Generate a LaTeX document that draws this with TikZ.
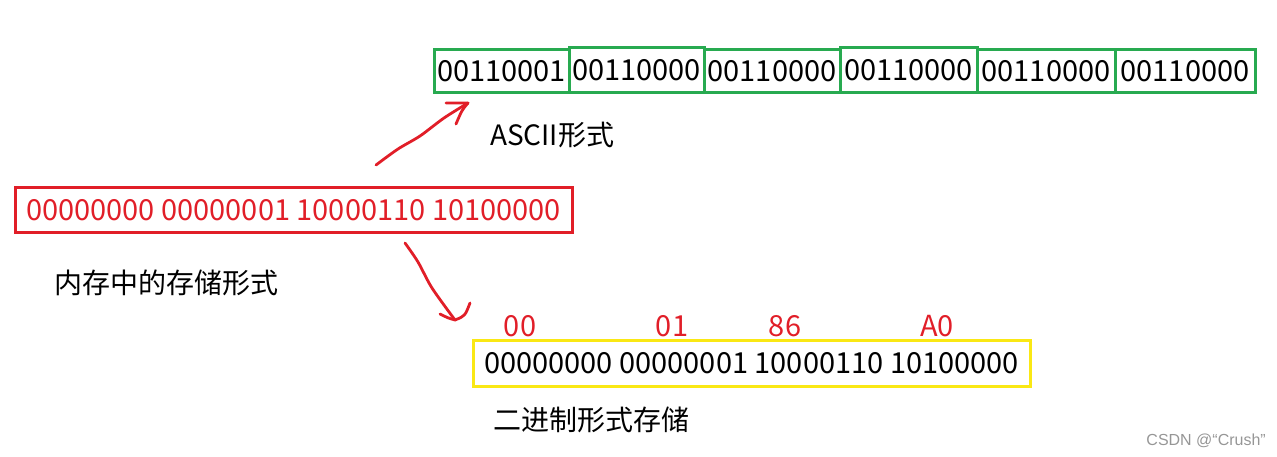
\documentclass[tikz,border=0pt]{standalone}
\usepackage{fontspec}
\setmainfont{Noto Sans CJK SC}
\newfontfamily\wmfont{Liberation Sans}
\definecolor{myred}{RGB}{225,30,40}
\definecolor{mygreen}{RGB}{40,170,80}
\definecolor{myyellow}{RGB}{250,232,20}
\definecolor{mygrey}{RGB}{150,150,150}
\begin{document}
\begin{tikzpicture}[x=1pt,y=-1pt,
  txt/.style={inner sep=0pt,font=\fontsize{28}{33}\selectfont},
  dig/.style={inner sep=0pt,font=\fontsize{29}{34}\selectfont},
  gbox/.style={draw=mygreen,line width=3pt,minimum height=43pt,minimum width=135pt,inner sep=0pt,font=\fontsize{29}{34}\selectfont},
  hand/.style={draw=myred,line width=2.8pt,line cap=round,line join=round}]
\path[use as bounding box] (0,0) rectangle (1277,457);
% green ASCII boxes
\node[gbox] (g1) at (501.5,71.5) {00110001};
\node[gbox,minimum width=135pt,minimum height=45pt] (g2) at (636.5,70.5) {00110000};
\node[gbox,minimum width=136pt] (g3) at (772,71.5) {00110000};
\node[gbox,minimum width=137pt,minimum height=45pt] (g4) at (908.5,70.5) {00110000};
\node[gbox,minimum width=138pt] (g5) at (1046,71.5) {00110000};
\node[gbox,minimum width=140pt] (g6) at (1185,71.5) {00110000};
\node[txt,anchor=west] (ascii) at (490,135) {ASCII形式};
% red memory box
\node[draw=myred,line width=3pt,minimum width=557pt,minimum height=45pt,inner sep=0pt,text=myred,font=\fontsize{29}{34}\selectfont] (mem) at (293.5,210.5) {00000000 00000001 10000110 10100000};
\node[txt,anchor=west] (memlab) at (54,283) {内存中的存储形式};
% yellow box
\node[draw=myyellow,line width=3pt,minimum width=557pt,minimum height=46pt,inner sep=0pt,font=\fontsize{29}{34}\selectfont] (bin) at (751.5,363) {00000000 00000001 10000110 10100000};
\node[dig,text=myred] (h1) at (520,326) {00};
\node[dig,text=myred] (h2) at (672,326) {01};
\node[dig,text=myred] (h3) at (785,326) {86};
\node[dig,text=myred] (h4) at (937,326) {A0};
\node[txt,anchor=west] (binlab) at (493,420) {二进制形式存储};
% watermark
\node[inner sep=0pt,anchor=east,text=mygrey,font=\wmfont\fontsize{16}{18}\selectfont] (wm) at (1266,441) {CSDN @“Crush”};
% hand-drawn arrow 1
\coordinate (a1s) at (376,165);
\coordinate (a1m1) at (398,149);
\coordinate (a1m2) at (420,136);
\coordinate (a1m3) at (444,118);
\coordinate (a1t) at (468,103);
\coordinate (a1w1) at (446,103);
\coordinate (a1w2) at (456,124);
\draw[hand] plot[smooth] coordinates {(a1s) (a1m1) (a1m2) (a1m3) (a1t)};
\draw[hand] (a1w1) -- (a1t) .. controls (462,110) .. (a1w2);
% hand-drawn arrow 2
\coordinate (a2s) at (405,243);
\coordinate (a2m1) at (418,262);
\coordinate (a2m2) at (432,288);
\coordinate (a2t) at (455,320);
\coordinate (a2w1) at (440,314);
\coordinate (a2w2) at (470,303);
\draw[hand] plot[smooth] coordinates {(a2s) (a2m1) (a2m2) (a2t)};
\draw[hand] (a2w1) .. controls (448,318) .. (a2t) .. controls (465,316) .. (a2w2);
\end{tikzpicture}
\end{document}
